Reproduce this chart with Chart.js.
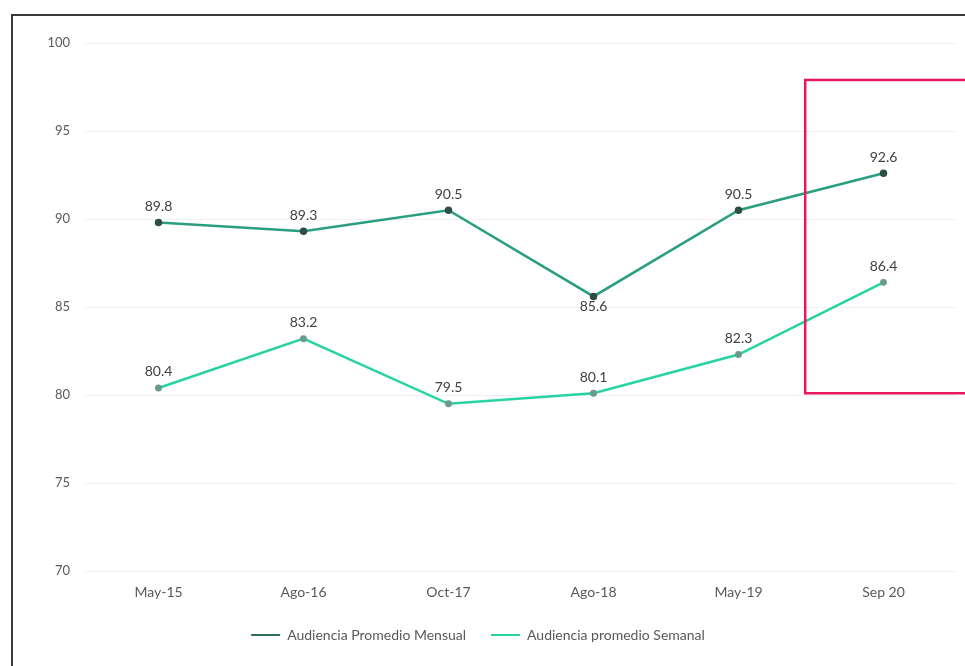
<!DOCTYPE html>
<html>
<head>
<meta charset="utf-8">
<script src="https://cdn.jsdelivr.net/npm/chart.js@4.4.1/dist/chart.umd.min.js"></script>
<style>
  html, body { margin: 0; padding: 0; background: #fff; }
  #wrap { width: 965px; height: 666px; position: relative; }
</style>
</head>
<body>
<div id="wrap"><canvas id="audiencia" width="965" height="666"></canvas></div>
<script>
// Periodos y valores de audiencia
const periodos = ['May-15', 'Ago-16', 'Oct-17', 'Ago-18', 'May-19', 'Sep 20'];
const promedioMensual = [89.8, 89.3, 90.5, 85.6, 90.5, 92.6];
const promedioSemanal = [80.4, 83.2, 79.5, 80.1, 82.3, 86.4];
const ejeY = { min: 70, max: 100, paso: 5 };

// Recuadro que resalta el ultimo periodo (en unidades de los ejes)
const resaltado = { desde: 4.46, yArriba: 97.9, yAbajo: 80.1 };

const textColor = '#595959';
const fontFamily = "'Lato', 'Open Sans', sans-serif";

// Fondo blanco y marco oscuro arriba / izquierda
var marcoFondo = {
    id: 'marcoFondo',
    beforeDraw: function(chart) {
        var ctx = chart.ctx;
        ctx.save();
        ctx.fillStyle = '#ffffff';
        ctx.fillRect(0, 0, chart.width, chart.height);
        ctx.strokeStyle = '#3a3a3a';
        ctx.lineWidth = 2;
        ctx.beginPath();
        ctx.moveTo(12, chart.height);
        ctx.lineTo(12, 15);
        ctx.lineTo(chart.width, 15);
        ctx.stroke();
        ctx.restore();
    }
};

// Etiquetas de valor sobre cada punto (debajo cuando hay una caida fuerte)
var etiquetas = {
    id: 'etiquetas',
    afterDatasetsDraw: function(chart) {
        var ctx = chart.ctx;
        ctx.save();
        ctx.font = '14px ' + fontFamily;
        ctx.fillStyle = '#404040';
        ctx.textAlign = 'center';
        ctx.textBaseline = 'middle';
        chart.data.datasets.forEach(function(ds, di) {
            var meta = chart.getDatasetMeta(di);
            meta.data.forEach(function(pt, i) {
                var v = ds.data[i];
                var prev = i > 0 ? ds.data[i - 1] : v;
                var next = i < ds.data.length - 1 ? ds.data[i + 1] : v;
                var abajo = di === 0 && prev - v > 2 && next - v > 2;
                var y = abajo ? pt.y + 10 : pt.y - 16;
                ctx.fillText(v.toFixed(1), pt.x, y);
            });
        });
        ctx.restore();
    }
};

// Recuadro rojo
var recuadro = {
    id: 'recuadro',
    afterDraw: function(chart) {
        var xs = chart.scales.x, ys = chart.scales.y;
        var x0 = xs.getPixelForValue(resaltado.desde);
        var y0 = ys.getPixelForValue(resaltado.yArriba);
        var y1 = ys.getPixelForValue(resaltado.yAbajo);
        var ctx = chart.ctx;
        ctx.save();
        ctx.strokeStyle = '#e8185c';
        ctx.lineWidth = 2.5;
        ctx.strokeRect(x0, y0, chart.width - x0 + 4, y1 - y0);
        ctx.restore();
    }
};

const ctx = document.getElementById('audiencia').getContext('2d');
const audienciaChart = new Chart(ctx, {
    type: 'line',
    data: {
        labels: periodos,
        datasets: [{
            label: 'Audiencia Promedio Mensual',
            data: promedioMensual,
            borderColor: '#2a9e80',
            backgroundColor: '#2f4f46',
            borderWidth: 2.5,
            pointRadius: 2.5,
            pointBackgroundColor: '#2f4f46',
            pointBorderColor: '#2f4f46',
            tension: 0
        }, {
            label: 'Audiencia promedio Semanal',
            data: promedioSemanal,
            borderColor: '#27d3a2',
            backgroundColor: '#6a9a8c',
            borderWidth: 2.5,
            pointRadius: 2.2,
            pointBackgroundColor: '#6a9a8c',
            pointBorderColor: '#6a9a8c',
            tension: 0
        }]
    },
    options: {
        responsive: false,
        animation: { duration: 0 },
        layout: { padding: { left: 0, top: 43, right: 9, bottom: 14 } },
        scales: {
            x: {
                offset: true,
                grid: { display: false, drawTicks: false },
                border: { display: false },
                afterFit: function(scale) { scale.height = 32; },
                ticks: { color: textColor, padding: 13, font: { family: fontFamily, size: 14 } }
            },
            y: {
                min: ejeY.min,
                max: ejeY.max,
                grid: { color: '#f0f0f0', drawTicks: false, lineWidth: 1 },
                border: { display: false },
                afterFit: function(scale) { scale.width = 86; },
                ticks: {
                    stepSize: ejeY.paso,
                    color: textColor,
                    padding: 16,
                    font: { family: fontFamily, size: 13 }
                }
            }
        },
        plugins: {
            legend: {
                position: 'bottom',
                labels: {
                    color: textColor,
                    font: { family: fontFamily, size: 14 },
                    boxWidth: 29,
                    boxHeight: 2,
                    padding: 25,
                    generateLabels: function(chart) {
                        return chart.data.datasets.map(function(ds, i) {
                            return {
                                text: ds.label,
                                fillStyle: i === 0 ? '#2f6f5c' : ds.borderColor,
                                strokeStyle: i === 0 ? '#2f6f5c' : ds.borderColor,
                                lineWidth: 0,
                                fontColor: textColor,
                                datasetIndex: i
                            };
                        });
                    }
                }
            },
            tooltip: { enabled: false }
        }
    },
    plugins: [marcoFondo, etiquetas, recuadro]
});
</script>
</body>
</html>
